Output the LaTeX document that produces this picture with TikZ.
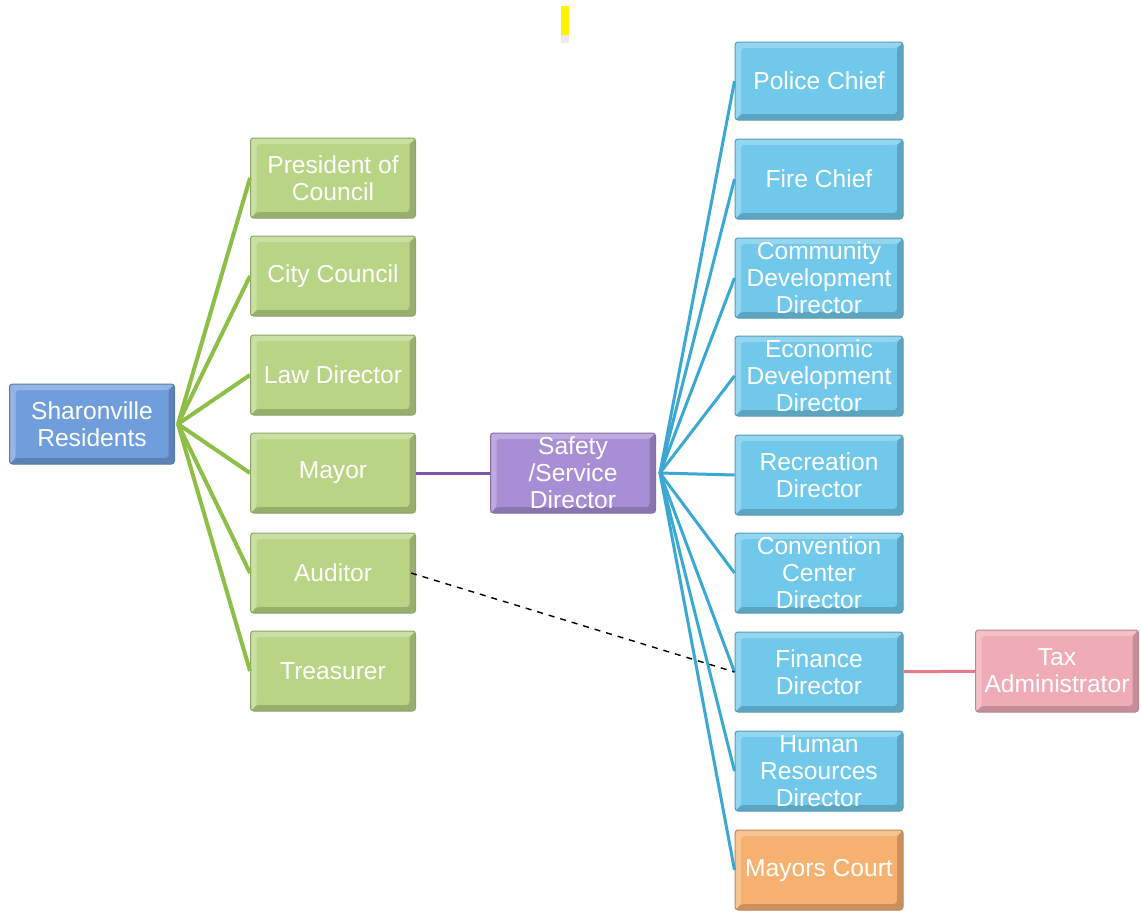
\documentclass[tikz,border=0pt]{standalone}
\usepackage{fontspec}
\setmainfont{Liberation Sans}
\usetikzlibrary{calc}
\definecolor{resblue}{RGB}{112,158,220}
\definecolor{cgreen}{RGB}{184,212,132}
\definecolor{spurple}{RGB}{168,142,212}
\definecolor{dblue}{RGB}{112,200,234}
\definecolor{tpink}{RGB}{240,172,182}
\definecolor{corange}{RGB}{246,176,112}
\definecolor{lgreen}{RGB}{140,190,72}
\definecolor{lblue}{RGB}{58,168,210}
\definecolor{lpurple}{RGB}{124,86,172}
\definecolor{lpink}{RGB}{226,124,134}
\tikzset{
  orgbox/.style={rectangle, rounded corners=1.5pt, fill=#1, draw=#1!78!black,
    line width=0.5pt, text=white, align=center, inner sep=0pt,
    font=\fontsize{12.3}{13.5}\selectfont,
    minimum width=82.5pt, minimum height=40pt,
    path picture={
      % bevel: dark lower/right rim, light upper/left rim
      \fill[#1!82!black] (path picture bounding box.south west)
        -- (path picture bounding box.south east)
        -- (path picture bounding box.north east)
        -- ([shift={(-3pt,-3pt)}]path picture bounding box.north east)
        -- ([shift={(-3pt,3pt)}]path picture bounding box.south east)
        -- ([shift={(3pt,3pt)}]path picture bounding box.south west) -- cycle;
      \fill[#1!75!white] (path picture bounding box.south west)
        -- (path picture bounding box.north west)
        -- (path picture bounding box.north east)
        -- ([shift={(-3pt,-3pt)}]path picture bounding box.north east)
        -- ([shift={(3pt,-3pt)}]path picture bounding box.north west)
        -- ([shift={(3pt,3pt)}]path picture bounding box.south west) -- cycle;
    }},
  tieline/.style={line width=#1}
}

\begin{document}
\begin{tikzpicture}[x=0.5pt,y=-0.5pt]

\useasboundingbox (0,0) rectangle (1141,916);
% odd yellow mark at the top
\fill[yellow] (561,6) rectangle (569,35);
\fill[black!8] (561,35) rectangle (569,43);

% residents and elected officials
\node[orgbox=resblue] (res) at (92,424) {Sharonville\\Residents};
\node[orgbox=cgreen] (pres) at (333,178) {President of\\Council};
\node[orgbox=cgreen] (city) at (333,276) {City Council};
\node[orgbox=cgreen] (law) at (333,375) {Law Director};
\node[orgbox=cgreen] (mayor) at (333,473) {Mayor};
\node[orgbox=cgreen] (aud) at (333,573) {Auditor};
\node[orgbox=cgreen] (treas) at (333,671) {Treasurer};

\node[orgbox=spurple] (safety) at (573,473) {Safety\\/Service\\Director};

% departments
\node[orgbox=dblue, minimum width=84pt, minimum height=39pt] (police) at (819,81) {Police Chief};
\node[orgbox=dblue, minimum width=84pt] (fire) at (819,179) {Fire Chief};
\node[orgbox=dblue, minimum width=84pt] (comm) at (819,278) {Community\\Development\\Director};
\node[orgbox=dblue, minimum width=84pt] (econ) at (819,376) {Economic\\Development\\Director};
\node[orgbox=dblue, minimum width=84pt] (rec) at (819,475) {Recreation\\Director};
\node[orgbox=dblue, minimum width=84pt] (conv) at (819,573) {Convention\\Center\\Director};
\node[orgbox=dblue, minimum width=84pt] (fin) at (819,672) {Finance\\Director};
\node[orgbox=dblue, minimum width=84pt] (hr) at (819,771) {Human\\Resources\\Director};
\node[orgbox=corange, minimum width=84pt] (court) at (819,870) {Mayors Court};

\node[orgbox=tpink, minimum width=81.5pt, minimum height=41pt] (tax) at (1057,671) {Tax\\Administrator};

% connectors
\foreach \n in {pres,city,law,mayor,aud,treas}
  \draw[tieline=2pt, lgreen] ([xshift=1.5pt]res.east) -- (\n.west);
\foreach \n in {police,fire,comm,econ,rec,conv,fin,hr,court}
  \draw[tieline=1.5pt, lblue] ([xshift=2pt]safety.east) -- (\n.west);
\draw[tieline=1.5pt, lpurple] (mayor) -- (safety);
\draw[tieline=1.5pt, lpink] (fin) -- (tax);
\draw[dashed, line width=0.7pt] ([xshift=-2.5pt]aud.east) -- (fin.west);

\end{tikzpicture}
\end{document}
